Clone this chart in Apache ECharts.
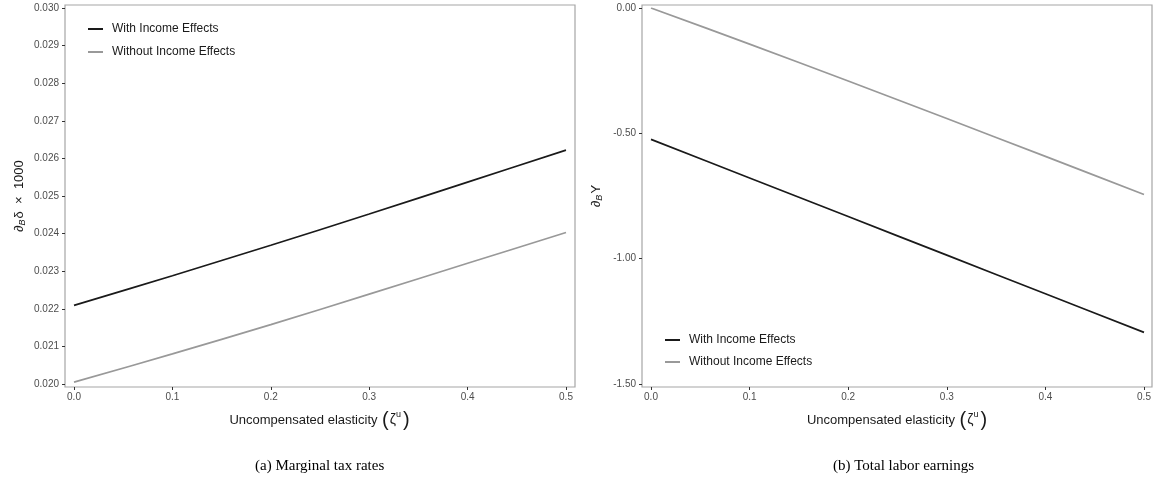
<!DOCTYPE html>
<html>
<head>
<meta charset="utf-8">
<script src="https://cdn.jsdelivr.net/npm/echarts@6/dist/echarts.min.js"></script>
<style>
html,body{margin:0;padding:0;background:#fff;}
#chart{width:1156px;height:485px;}
</style>
</head>
<body>
<div id="chart"></div>
<script>
// ---- data ----
var elasticity = [0.0, 0.1, 0.2, 0.3, 0.4, 0.5];
var mtrWithIncome = [0.02209, 0.02288, 0.02369, 0.02452, 0.02537, 0.02622];
var mtrWithoutIncome = [0.02005, 0.02080, 0.02158, 0.02239, 0.02321, 0.02403];
var earnWithIncome = [-0.524, -0.678, -0.832, -0.986, -1.140, -1.294];
var earnWithoutIncome = [0.000, -0.144, -0.291, -0.441, -0.592, -0.744];
var seriesNames = ['With Income Effects', 'Without Income Effects'];
var captions = ['(a) Marginal tax rates', '(b) Total labor earnings'];

function pairs(xs, ys) { return xs.map(function (x, i) { return [x, ys[i]]; }); }

var FONT = '"Liberation Sans", Arial, sans-serif';
var BLACK = '#1a1a1a', GRAY = '#999999';
var tickLabel = { color: '#4d4d4d', fontSize: 10, fontFamily: FONT };

function xAxisCfg(idx) {
  return {
    gridIndex: idx, type: 'value', min: 0, max: 0.5, interval: 0.1, offset: 3,
    axisLine: { show: false, onZero: false },
    axisTick: { show: true, length: 3, lineStyle: { color: '#333', width: 1 } },
    axisLabel: Object.assign({ margin: 5, formatter: function (v) { return v.toFixed(1); } }, tickLabel),
    splitLine: { show: false },
    name: '{t|Uncompensated elasticity }{p|(}{z|ζ}{u|u}{p|)}',
    nameLocation: 'middle', nameGap: 23,
    nameTextStyle: {
      rich: {
        t: { fontSize: 13, color: '#1a1a1a', fontFamily: FONT },
        p: { fontSize: 20, color: '#1a1a1a', fontFamily: FONT, padding: [0, 1, 0, 1] },
        z: { fontSize: 14, color: '#1a1a1a', fontFamily: FONT },
        u: { fontSize: 9, color: '#1a1a1a', fontFamily: FONT, verticalAlign: 'top', padding: [0, 1, 9, 0] }
      }
    }
  };
}

function yName(text) {
  return {
    name: text, nameLocation: 'middle', nameGap: 38,
    nameTextStyle: {
      rich: {
        d: { fontSize: 13, color: '#1a1a1a', fontFamily: FONT },
        s: { fontSize: 9, color: '#1a1a1a', fontFamily: FONT, fontStyle: 'italic', padding: [7, 1, 0, 0] }
      }
    }
  };
}

var option = {
  animation: false,
  backgroundColor: '#fff',
  grid: [
    { left: 74, right: 590, top: 8, bottom: 101 },
    { left: 651, right: 12, top: 8, bottom: 101 }
  ],
  xAxis: [xAxisCfg(0), xAxisCfg(1)],
  yAxis: [
    Object.assign({
      gridIndex: 0, type: 'value', min: 0.020, max: 0.030, interval: 0.001, offset: 9,
      axisLine: { show: false, onZero: false },
      axisTick: { show: true, length: 3, lineStyle: { color: '#333', width: 1 } },
      axisLabel: Object.assign({ margin: 6, formatter: function (v) { return v.toFixed(3); } }, tickLabel),
      splitLine: { show: false }
    }, yName('{d|∂}{s|B}{d|δ  ×  1000}')),
    Object.assign({
      gridIndex: 1, type: 'value', min: -1.5, max: 0, interval: 0.5, offset: 9,
      axisLine: { show: false, onZero: false },
      axisTick: { show: true, length: 3, lineStyle: { color: '#333', width: 1 } },
      axisLabel: Object.assign({ margin: 6, formatter: function (v) { return v.toFixed(2); } }, tickLabel),
      splitLine: { show: false }
    }, yName('{d|∂}{s|B}{d|Y}'))
  ],
  legend: [
    {
      data: seriesNames, orient: 'vertical', left: 83, top: 18, itemGap: 11,
      icon: 'rect', itemWidth: 15, itemHeight: 2, selectedMode: false,
      textStyle: { fontSize: 12, color: '#1a1a1a', fontFamily: FONT, padding: [0, 0, 0, 4] }
    },
    {
      data: seriesNames, orient: 'vertical', left: 660, top: 329, itemGap: 10,
      icon: 'rect', itemWidth: 15, itemHeight: 2, selectedMode: false,
      textStyle: { fontSize: 12, color: '#1a1a1a', fontFamily: FONT, padding: [0, 0, 0, 4] }
    }
  ],
  series: [
    { name: seriesNames[0], type: 'line', xAxisIndex: 0, yAxisIndex: 0, data: pairs(elasticity, mtrWithIncome),
      smooth: 0.3, showSymbol: false, lineStyle: { color: BLACK, width: 1.7 }, itemStyle: { color: BLACK } },
    { name: seriesNames[1], type: 'line', xAxisIndex: 0, yAxisIndex: 0, data: pairs(elasticity, mtrWithoutIncome),
      smooth: 0.3, showSymbol: false, lineStyle: { color: GRAY, width: 1.7 }, itemStyle: { color: GRAY } },
    { name: seriesNames[0], type: 'line', xAxisIndex: 1, yAxisIndex: 1, data: pairs(elasticity, earnWithIncome),
      smooth: 0.3, showSymbol: false, lineStyle: { color: BLACK, width: 1.7 }, itemStyle: { color: BLACK } },
    { name: seriesNames[1], type: 'line', xAxisIndex: 1, yAxisIndex: 1, data: pairs(elasticity, earnWithoutIncome),
      smooth: 0.3, showSymbol: false, lineStyle: { color: GRAY, width: 1.7 }, itemStyle: { color: GRAY } }
  ],
  graphic: [
    { type: 'rect', shape: { x: 65, y: 5, width: 510, height: 382 }, silent: true,
      style: { fill: 'none', stroke: '#a6a6a6', lineWidth: 1.2 } },
    { type: 'rect', shape: { x: 642, y: 5, width: 510, height: 382 }, silent: true,
      style: { fill: 'none', stroke: '#a6a6a6', lineWidth: 1.2 } },
    { type: 'text', left: 255, top: 459, silent: true,
      style: { text: captions[0], fontSize: 15, fontFamily: '"Liberation Serif", "Times New Roman", serif', fill: '#000' } },
    { type: 'text', left: 833, top: 459, silent: true,
      style: { text: captions[1], fontSize: 15, fontFamily: '"Liberation Serif", "Times New Roman", serif', fill: '#000' } }
  ]
};

var chart = echarts.init(document.getElementById('chart'), null, { renderer: 'canvas' });
chart.setOption(option);
</script>
</body>
</html>
